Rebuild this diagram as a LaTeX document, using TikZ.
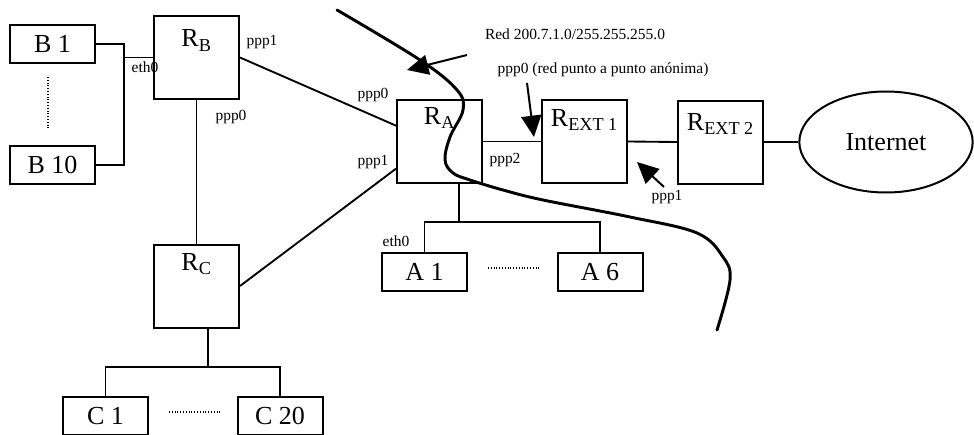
\documentclass[tikz,border=0pt]{standalone}
\usepackage{fontspec}
\setmainfont{Liberation Serif}
\usetikzlibrary{shapes.geometric, arrows.meta, positioning, calc}

\begin{document}
\begin{tikzpicture}[
    x=0.75pt, y=-0.75pt,
    router/.style={draw, line width=1.5pt, minimum width=63.75pt,
                   minimum height=62.25pt, inner sep=0pt},
    host/.style={draw, line width=1.5pt, minimum width=63.75pt,
                 minimum height=28.5pt, inner sep=0pt,
                 font=\fontsize{19.5}{22}\selectfont},
    rlabel/.style={font=\fontsize{19.5}{22}\selectfont, inner sep=0pt},
    tag/.style={font=\fontsize{11.6}{13}\selectfont, inner sep=0pt},
    link/.style={line width=1.4pt},
    pointer/.style={-{Triangle[length=16pt,width=15pt]}, line width=1.5pt},
    dots/.style={line width=0.8pt, dash pattern=on 0.8pt off 1.3pt},
]
    \useasboundingbox (0,0) rectangle (974,435);

    % Routers
    \node[router] (rb) at (196.5,57.5) {};
    \node[rlabel, below=11pt of rb.north] (rbl) {R\textsubscript{B}};
    \node[router] (rc) at (196.5,286) {};
    \node[rlabel, below=7.5pt of rc.north] (rcl) {R\textsubscript{C}};
    \node[router] (ra) at (439.5,141.5) {};
    \node[rlabel, below=6pt of ra.north] (ral) {R\textsubscript{A}};
    \node[router] (rext1) at (584.5,141.5) {};
    \node[rlabel, below=7.5pt of rext1.north] (rext1l) {R\textsubscript{EXT 1}};
    \node[router] (rext2) at (720.5,142) {};
    \node[rlabel, below=10.5pt of rext2.north] (rext2l) {R\textsubscript{EXT 2}};
    \node[ellipse, draw, line width=1.5pt, minimum width=130pt,
          minimum height=75.75pt, inner sep=0pt,
          font=\fontsize{19.5}{22}\selectfont] (inet) at (886,142) {Internet};

    % Hosts
    \node[host] (b1) at (52.5,44) {B 1};
    \node[host] (b10) at (52.5,165) {B 10};
    \node[host] (a1) at (424.5,272) {A 1};
    \node[host] (a6) at (600,272) {A 6};
    \node[host] (c1) at (105.5,416) {C 1};
    \node[host] (c20) at (280,416) {C 20};

    % Dots between hosts
    \draw[dots] (48,77) -- (48,128);
    \draw[dots] (488,268) -- (540,268);
    \draw[dots] (169,412) -- (220,412);

    % LAN buses
    \coordinate (bbus) at (124,57.5);
    \coordinate (abus) at (459,222);
    \coordinate (cbus) at (208,367);
    \draw[link] (b1.east) -| (bbus) |- (b10.east);
    \draw[link] (bbus) -- (rb.west);
    \draw[link] (ra.south -| abus) -- (abus);
    \draw[link] (a1.north) |- (abus) -| (a6.north);
    \draw[link] (rc.south -| cbus) -- (cbus);
    \draw[link] (c1.north) |- (cbus) -| (c20.north);

    % Point to point links
    \draw[link] (rb.east) -- (ra.160);
    \draw[link] (rb.south) -- (rc.north);
    \draw[link] (rc.east) -- (ra.212);
    \draw[link] (ra.east) -- (rext1.west);
    \draw[link] (rext1.east) -- (rext2.west);
    \draw[link] (rext2.east) -- (inet.west);

    % Interface labels
    \node[tag] (ethb) at (145,67) {eth0};
    \node[tag] (rbppp1) at (262,42) {ppp1};
    \node[tag] (rbppp0) at (231,117) {ppp0};
    \node[tag] (rappp0) at (373,95) {ppp0};
    \node[tag] (rappp1) at (373,162) {ppp1};
    \node[tag] (rappp2) at (505,160) {ppp2};
    \node[tag] (etha) at (396,241) {eth0};
    \node[tag] (extppp1) at (667,197) {ppp1};
    \node[tag] (redl) at (575,34) {Red 200.7.1.0/255.255.255.0};
    \node[tag] (anon) at (603,70) {ppp0 (red punto a punto anónima)};

    % Pointers
    \coordinate (redtail) at (467,55);
    \coordinate (redtip) at (407,70);
    \coordinate (anontail) at (527,83);
    \coordinate (anontip) at (534,137);
    \coordinate (exttail) at (664,187);
    \coordinate (exttip) at (637,162);
    \draw[pointer] (redtail) -- (redtip);
    \draw[pointer] (anontail) -- (anontip);
    \draw[pointer] (exttail) -- (exttip);

    % Boundary of the network
    \draw[line width=2.2pt, line cap=round] plot[smooth, tension=0.6] coordinates {
        (337,10) (420,60) (457,90) (463,110) (450,137) (445,160) (453,173)
        (470,180) (503,190) (543,200) (630,217) (697,233) (723,257)
        (730,280) (717,330)};
\end{tikzpicture}
\end{document}
